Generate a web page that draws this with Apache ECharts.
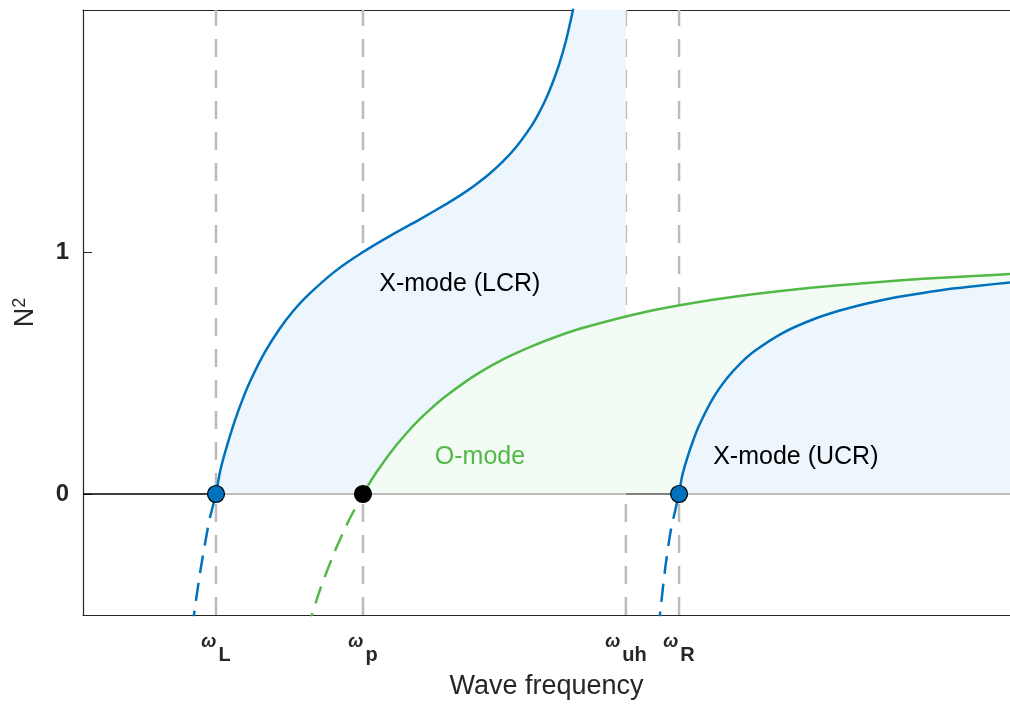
<!DOCTYPE html>
<html>
<head>
<meta charset="utf-8">
<script src="https://cdn.jsdelivr.net/npm/echarts@6/dist/echarts.min.js"></script>
<style>
  html, body { margin: 0; padding: 0; background: #fff; }
  #chart { width: 1010px; height: 709px; }
</style>
</head>
<body>
<div id="chart"></div>
<script>
// frequency in units of ω_p
const X_MAX = 3.311;
const W_L = 0.475, W_P = 1.0, W_UH = 1.939, W_R = 2.129;
const freqTicks = [W_L, W_P, W_UH, W_R];
const freqSubs = ['L', 'p', 'uh', 'R'];
const yTicks = [0, 1];

// X-mode, lower cutoff branch (N^2 >= 0 and the dashed part below 0)
const lcrCurve = [[0.475, 0], [0.49, 0.095], [0.51, 0.182], [0.54, 0.295], [0.57, 0.391],
  [0.6, 0.473], [0.65, 0.587], [0.7, 0.679], [0.75, 0.755], [0.8, 0.818], [0.9, 0.92],
  [1.0, 1.0], [1.1, 1.069], [1.2, 1.133], [1.3, 1.2], [1.35, 1.236], [1.4, 1.276],
  [1.45, 1.321], [1.5, 1.374], [1.55, 1.438], [1.6, 1.518], [1.625, 1.567], [1.65, 1.624],
  [1.675, 1.692], [1.7, 1.773], [1.725, 1.873], [1.75, 2.0], [1.76, 2.061], [1.77, 2.129],
  [1.78, 2.206]];
const lcrNeg = [[0.39, -0.556], [0.4, -0.468], [0.42, -0.312], [0.45, -0.115], [0.475, 0]];

// O-mode
const oCurve = [[1.0, 0], [1.02, 0.039], [1.05, 0.093], [1.1, 0.174], [1.15, 0.244],
  [1.2, 0.306], [1.25, 0.36], [1.3, 0.408], [1.4, 0.49], [1.5, 0.556], [1.6, 0.609],
  [1.7, 0.654], [1.8, 0.691], [2.0, 0.75], [2.2, 0.793], [2.4, 0.826], [2.6, 0.852],
  [2.8, 0.872], [3.0, 0.889], [3.2, 0.902], [3.311, 0.909]];
const oNeg = [[0.8, -0.5625], [0.85, -0.384], [0.9, -0.235], [0.95, -0.108], [1.0, 0]];

// X-mode, upper cutoff branch
const ucrCurve = [[2.129, 0], [2.14, 0.074], [2.16, 0.155], [2.18, 0.223], [2.2, 0.282],
  [2.25, 0.395], [2.3, 0.478], [2.35, 0.542], [2.4, 0.592], [2.5, 0.666], [2.6, 0.718],
  [2.7, 0.757], [2.8, 0.787], [2.9, 0.812], [3.0, 0.831], [3.1, 0.848], [3.2, 0.861],
  [3.311, 0.874]];
const ucrNeg = [[2.055, -0.56], [2.06, -0.505], [2.08, -0.302], [2.1, -0.147], [2.129, 0]];

const cutoffs = [[W_L, 0, 'b'], [W_P, 0, 'k'], [W_R, 0, 'b']];
const notes = [[1.346, 0.867, 'X-mode (LCR)', 'k'], [1.418, 0.154, 'O-mode', 'g'],
  [2.546, 0.154, 'X-mode (UCR)', 'k']];

const BLUE = '#0072BD', GREEN = '#52B848', INK = '#262626';
const FONT = '"Liberation Sans", Arial, Helvetica, sans-serif';

const chart = echarts.init(document.getElementById('chart'));

const fill = (data, color, z) => ({
  type: 'line', data: data, showSymbol: false, silent: true, z: z, smooth: 0.2,
  lineStyle: { width: 0 }, areaStyle: { color: color, opacity: 1 }
});
const curve = (data, color, dashed) => ({
  type: 'line', data: data, showSymbol: false, silent: true, z: 6, smooth: 0.2,
  lineStyle: { color: color, width: 2.5, type: dashed ? [18, 10] : 'solid' }
});
const vline = (x) => ({
  type: 'line', data: [[x, -0.5], [x, 2]], showSymbol: false, silent: true, z: 1,
  lineStyle: { color: '#BBBBBB', width: 2.5, type: [18, 13] }
});
const hline = (a, b, color) => ({
  type: 'line', data: [[a, 0], [b, 0]], showSymbol: false, silent: true, z: 5,
  lineStyle: { color: color, width: 1.5 }
});

const option = {
  animation: false,
  grid: { left: 83, right: 0, top: 10, bottom: 94 },
  xAxis: [{
    type: 'value', min: 0, max: X_MAX,
    name: 'Wave frequency', nameLocation: 'middle', nameGap: 58,
    nameTextStyle: { fontFamily: FONT, fontSize: 27, color: INK },
    axisLine: { show: true, onZero: false, lineStyle: { color: INK, width: 1.2 } },
    splitLine: { show: false },
    axisTick: { inside: true, length: 9, customValues: freqTicks, lineStyle: { color: INK } },
    axisLabel: {
      customValues: freqTicks, margin: 18,
      formatter: (v) => {
        const i = freqTicks.findIndex(t => Math.abs(t - v) < 1e-6);
        return i < 0 ? '' : '{w|ω}{s|' + freqSubs[i] + '}';
      },
      rich: {
        w: { fontFamily: FONT, fontSize: 18, fontWeight: 'bold', fontStyle: 'italic', color: INK, verticalAlign: 'top' },
        s: { fontFamily: FONT, fontSize: 20, fontWeight: 'bold', color: INK, verticalAlign: 'top', padding: [12, 0, 0, 2] }
      }
    }
  }, {
    type: 'value', min: 0, max: X_MAX, position: 'top',
    axisLine: { show: true, onZero: false, lineStyle: { color: INK, width: 1.2 } },
    splitLine: { show: false },
    axisTick: { inside: true, length: 9, customValues: freqTicks, lineStyle: { color: INK } },
    axisLabel: { show: false }
  }],
  yAxis: {
    type: 'value', min: -0.5, max: 2,
    name: '{n|N}{sup|2}', nameLocation: 'middle', nameGap: 42, nameRotate: 90,
    nameTextStyle: {
      rich: {
        n: { fontFamily: FONT, fontSize: 27, color: INK },
        sup: { fontFamily: FONT, fontSize: 18, color: INK, verticalAlign: 'top', padding: [0, 0, 12, 0] }
      }
    },
    axisLine: { show: true, onZero: false, lineStyle: { color: INK, width: 1.2 } },
    splitLine: { show: false },
    axisTick: { inside: true, length: 9, customValues: yTicks, lineStyle: { color: INK } },
    axisLabel: {
      customValues: yTicks, margin: 14,
      fontFamily: FONT, fontSize: 24, fontWeight: 'bold', color: INK
    }
  },
  series: [
    vline(W_L), vline(W_P), vline(W_UH), vline(W_R),
    fill(lcrCurve.concat([[W_UH, 2.206]]), '#EDF5FD', 2),
    fill(oCurve, '#F3FCF4', 3),
    fill(ucrCurve, '#EDF5FD', 4),
    hline(0, W_L, '#000000'),
    hline(W_L, X_MAX, '#A8A8A8'),
    hline(W_UH, W_R, '#6E6E6E'),
    curve(lcrCurve, BLUE, false), curve(lcrNeg, BLUE, true),
    curve(oCurve, GREEN, false), curve(oNeg, GREEN, true),
    curve(ucrCurve, BLUE, false), curve(ucrNeg, BLUE, true),
    {
      type: 'scatter', z: 8, silent: true, symbolSize: 17,
      data: cutoffs.map(c => ({
        value: [c[0], c[1]],
        itemStyle: { color: c[2] === 'b' ? BLUE : '#000000', borderColor: '#000000', borderWidth: 1.2, opacity: 1 }
      }))
    },
    {
      type: 'scatter', z: 9, silent: true, symbolSize: 0,
      itemStyle: { opacity: 1 },
      data: notes.map(n => ({
        value: [n[0], n[1]],
        label: {
          show: true, position: 'inside', formatter: n[2],
          fontFamily: FONT, fontSize: 25, color: n[3] === 'g' ? GREEN : '#000000'
        }
      }))
    }
  ]
};

chart.setOption(option);
</script>
</body>
</html>
